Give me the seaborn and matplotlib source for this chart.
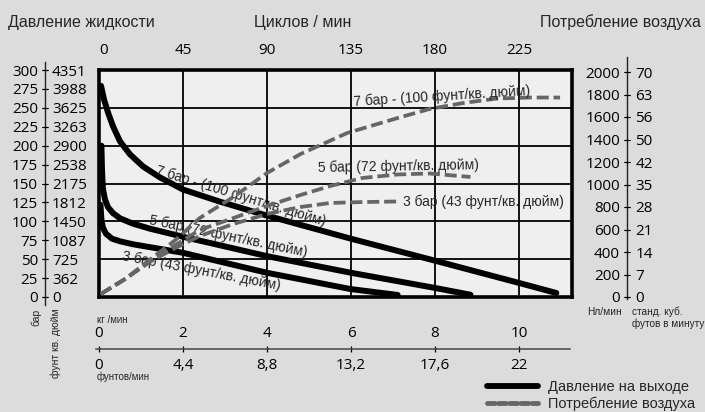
import matplotlib
matplotlib.use('Agg')
import matplotlib.pyplot as plt
import seaborn as sns
from matplotlib.lines import Line2D

# ---------------- data ----------------
cycles_ticks = [0, 45, 90, 135, 180, 225]
bar_ticks = [0, 25, 50, 75, 100, 125, 150, 175, 200, 225, 250, 275, 300]
psi_labels = ['0', '362', '725', '1087', '1450', '1812', '2175', '2538',
              '2900', '3263', '3625', '3988', '4351']
nl_ticks = [0, 200, 400, 600, 800, 1000, 1200, 1400, 1600, 1800, 2000]
scfm_labels = ['0', '7', '14', '21', '28', '35', '42', '50', '56', '63', '70']
kg_ticks = [0, 2, 4, 6, 8, 10]
lbs_labels = ['0', '4,4', '8,8', '13,2', '17,6', '22']

# fluid outlet pressure (bar) vs cycles/min
p7_cyc = [1.1, 2.7, 4.8, 7.5, 11.25, 16.6, 23.6, 32.7, 45, 64.8, 90, 135, 180, 225, 245]
p7_bar = [279, 261, 244, 225.6, 205.7, 188.5, 172.5, 158, 142, 126, 107.5, 77, 48, 18.6, 5.3]
p5_cyc = [1.3, 1.6, 2.1, 3.2, 4.8, 7.5, 11.25, 18.2, 27.3, 45, 90, 135, 180, 199]
p5_bar = [200, 168, 143, 129, 118.8, 110.8, 104, 96.9, 90.3, 79.6, 54, 32, 12, 3]
p3_cyc = [0.8, 1.3, 2.1, 3.75, 7.0, 11.25, 18.2, 45, 90, 134.5, 160]
p3_bar = [122, 102, 91.6, 83.6, 77, 73.6, 69.7, 58.4, 32, 10.6, 2.7]

# air consumption (Nl/min) vs cycles/min
a3_cyc = [1, 14, 27, 41, 54, 72, 90, 108, 124, 141, 160]
a3_nl = [27, 160, 311, 436, 542, 649, 738, 800, 836, 844, 849]
a5_cyc = [1, 14, 27, 41, 54, 72, 90, 108, 124, 141, 160, 177, 199]
a5_nl = [27, 160, 311, 462, 596, 702, 809, 907, 987, 1058, 1089, 1098, 1067]
a7_cyc = [1, 14, 27, 41, 54, 72, 90, 108, 133, 160, 177, 195, 213, 231, 247]
a7_nl = [27, 160, 329, 507, 702, 889, 1102, 1271, 1458, 1591, 1671, 1724,
         1764, 1773, 1773]

lbl7 = '7 бар - (100 фунт/кв. дюйм)'
lbl5 = '5 бар (72 фунт/кв. дюйм)'
lbl3 = '3 бар (43 фунт/кв. дюйм)'

# ---------------- style ----------------
sns.set_theme(style='white')
plt.rcParams['font.family'] = ['Liberation Sans', 'DejaVu Sans']
TICKFONT = ['Open Sans', 'DejaVu Sans']

W, H = 705, 412
BG = '#dcdcdc'
PANEL = '#efefef'
AIR = '#666666'


def fx(px):
    return px / W


def fy(py):
    return 1 - py / H


fig = plt.figure(figsize=(W / 100, H / 100), dpi=100, facecolor=BG)

# ---------------- main panel ----------------
ax = fig.add_axes([fx(99), fy(297), 473 / W, 227 / H])
ax.set_facecolor(PANEL)
XMAX = 473 * 45 / 84
ax.set_xlim(0, XMAX)
ax.set_ylim(0, 300)
ax.set_xticks(cycles_ticks)
ax.set_yticks(list(range(0, 301, 50)))
ax.grid(True, color='black', lw=1.3)
ax.set_axisbelow(True)
ax.xaxis.set_ticks_position('top')
ax.tick_params(axis='x', length=0, pad=9, labelsize=11, labeltop=True,
               labelbottom=False, colors='black')
ax.tick_params(axis='y', left=False, labelleft=False, length=0)
for t in ax.get_xticklabels():
    t.set_fontfamily(TICKFONT)
ax.get_xticklabels()[0].set_horizontalalignment('left')
for s in ax.spines.values():
    s.set_linewidth(2.6)
    s.set_color('black')
    s.set_visible(True)

for xs, ys in [(p7_cyc, p7_bar), (p5_cyc, p5_bar), (p3_cyc, p3_bar)]:
    sns.lineplot(x=xs, y=ys, ax=ax, color='black', lw=4.3, estimator=None,
                 sort=False, solid_capstyle='round', solid_joinstyle='round')
ax.set_xlabel('')
ax.set_ylabel('')

ax.text(76, 133, lbl7, rotation=-17, rotation_mode='anchor', ha='center',
        va='center', fontsize=10)
ax.text(69, 80, lbl5, rotation=-11.7, rotation_mode='anchor', ha='center',
        va='center', fontsize=10)
ax.text(54.6, 34, lbl3, rotation=-10.7, rotation_mode='anchor', ha='center',
        va='center', fontsize=10)

# air consumption on twin axis
axR = ax.twinx()
axR.set_ylim(0, 2000 * 227 / 225)
axR.set_axis_off()
for xs, ys in [(a7_cyc, a7_nl), (a5_cyc, a5_nl), (a3_cyc, a3_nl)]:
    sns.lineplot(x=xs, y=ys, ax=axR, color=AIR, lw=2.7, estimator=None,
                 sort=False)
    axR.lines[-1].set_dashes((3.2, 1.3))
axR.text(183.5, 1785, lbl7, rotation=3.6, rotation_mode='anchor',
         ha='center', va='center', fontsize=10)
axR.text(160.2, 1158, lbl5, rotation=1, rotation_mode='anchor',
         ha='center', va='center', fontsize=10)
axR.text(162.9, 847, lbl3, ha='left', va='center', fontsize=10)

# ---------------- left scale (bar / psi) ----------------
axL = fig.add_axes([fx(45), fy(305), 0, 243 / H])
axL.set_ylim(-(305 - 297) * 300 / 227, 300 + (70 - 62) * 300 / 227)
axL.patch.set_visible(False)
for k in ['top', 'bottom', 'right']:
    axL.spines[k].set_visible(False)
axL.spines['left'].set_color('#222222')
axL.spines['left'].set_linewidth(1.0)
axL.set_xticks([])
axL.set_yticks(bar_ticks, labels=[str(v) for v in bar_ticks])
axL.tick_params(axis='y', direction='inout', length=4, width=0.8, pad=3,
                labelsize=11, colors='black', left=True)
for t in axL.get_yticklabels():
    t.set_fontfamily(TICKFONT)
axL2 = axL.twinx()
axL2.set_ylim(axL.get_ylim())
for s in axL2.spines.values():
    s.set_visible(False)
axL2.set_yticks(bar_ticks, labels=psi_labels)
axL2.tick_params(axis='y', direction='inout', length=4, width=0.8, pad=3,
                 labelsize=11, colors='black', right=True)
for t in axL2.get_yticklabels():
    t.set_fontfamily(TICKFONT)

# ---------------- right scale (Nl/min / scfm) ----------------
axRR = fig.add_axes([fx(627), fy(299), 0, 242 / H])
axRR.set_ylim(-(299 - 297) * 2000 / 225, 2000 + (72 - 57) * 2000 / 225)
axRR.patch.set_visible(False)
for k in ['top', 'bottom', 'right']:
    axRR.spines[k].set_visible(False)
axRR.spines['left'].set_color('#222222')
axRR.spines['left'].set_linewidth(1.0)
axRR.set_xticks([])
axRR.set_yticks(nl_ticks, labels=[str(v) for v in nl_ticks])
axRR.tick_params(axis='y', direction='inout', length=4, width=0.8, pad=3,
                 labelsize=11, colors='black', left=True)
for t in axRR.get_yticklabels():
    t.set_fontfamily(TICKFONT)
axRR2 = axRR.twinx()
axRR2.set_ylim(axRR.get_ylim())
for s in axRR2.spines.values():
    s.set_visible(False)
axRR2.set_yticks(nl_ticks, labels=scfm_labels)
axRR2.tick_params(axis='y', direction='inout', length=4, width=0.8, pad=4,
                  labelsize=11, colors='black', right=True)
for t in axRR2.get_yticklabels():
    t.set_fontfamily(TICKFONT)

# ---------------- bottom scale (kg/min / lb/min) ----------------
axB = fig.add_axes([fx(96), fy(349), 474 / W, 0])
axB.set_xlim(-3 * 2 / 84, (570 - 99) * 2 / 84)
axB.patch.set_visible(False)
for k in ['top', 'left', 'right']:
    axB.spines[k].set_visible(False)
axB.spines['bottom'].set_color('#444444')
axB.spines['bottom'].set_linewidth(1.1)
axB.set_yticks([])
axB.set_xticks(kg_ticks, labels=lbs_labels)
axB.tick_params(axis='x', direction='inout', length=5, width=0.9, pad=4,
                labelsize=11, colors='black', bottom=True)
for t in axB.get_xticklabels():
    t.set_fontfamily(TICKFONT)
axB.xaxis.get_major_ticks()[0].tick1line.set_visible(False)
axT = axB.twiny()
axT.set_xlim(axB.get_xlim())
for s in axT.spines.values():
    s.set_visible(False)
axT.set_xticks(kg_ticks, labels=[str(v) for v in kg_ticks])
axT.tick_params(axis='x', length=0, pad=6, labelsize=11, colors='black')
for t in axT.get_xticklabels():
    t.set_fontfamily(TICKFONT)

# ---------------- texts ----------------
fig.text(fx(8), fy(22), 'Давление жидкости', ha='left', va='center', fontsize=11.5)
fig.text(fx(303), fy(22), 'Циклов / мин', ha='center', va='center', fontsize=11.5)
fig.text(fx(701), fy(22), 'Потребление воздуха', ha='right', va='center', fontsize=11.5)

fig.text(fx(36), fy(309), 'бар', rotation=90, ha='center', va='top', fontsize=7.5)
fig.text(fx(56), fy(308), 'фунт кв. дюйм', rotation=90, ha='center', va='top', fontsize=7.5)
fig.text(fx(97), fy(320), 'кг /мин', ha='left', va='center', fontsize=7)
fig.text(fx(97), fy(377), 'фунтов/мин', ha='left', va='center', fontsize=7)
fig.text(fx(604), fy(312), 'Нл/мин', ha='center', va='center', fontsize=7.3)
fig.text(fx(632), fy(312), 'станд. куб.', ha='left', va='center', fontsize=7.3)
fig.text(fx(632), fy(324), 'футов в минуту', ha='left', va='center', fontsize=7.2)

# ---------------- legend ----------------
handles = [Line2D([], [], color='black', lw=4.2, solid_capstyle='round'),
           Line2D([], [], color=AIR, lw=3.5, dashes=(1.6, 0.7),
                  dash_capstyle='round')]
fig.legend(handles, ['Давление на выходе', 'Потребление воздуха'],
           loc='upper left', bbox_to_anchor=(fx(487), fy(380)), frameon=False,
           handlelength=3.5, handletextpad=0.65, labelspacing=0.15,
           borderpad=0, borderaxespad=0, fontsize=10.5)

fig.savefig('out.png', dpi=100, facecolor=BG)
